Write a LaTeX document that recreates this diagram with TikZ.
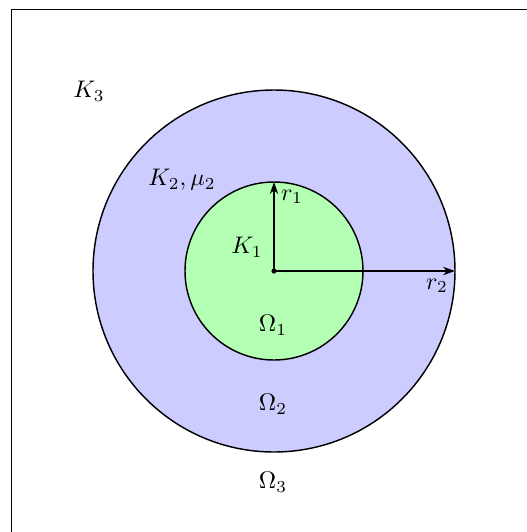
\documentclass[tikz,border=0pt]{standalone}
\usetikzlibrary{arrows.meta}
\definecolor{outerfill}{RGB}{204,204,255}
\definecolor{innerfill}{RGB}{179,255,179}
\tikzset{
  lbl/.style={inner sep=0pt},
  radius arrow/.style={line width=0.6pt,-{Stealth[length=5pt,width=3.5pt]}},
  border/.style={line width=0.6pt}
}
\begin{document}
\begin{tikzpicture}[x=0.4167pt,y=-0.4167pt]
\useasboundingbox (0,0) rectangle (527,532);
\clip (0,0) rectangle (527,532);
\draw[border] (11.5,9.5) rectangle (540,540);
\draw[border,fill=outerfill] (274,271) circle[radius=181];
\draw[border,fill=innerfill] (274,271) circle[radius=89];
\coordinate (c) at (274,271);
\coordinate (t1) at (274,182);
\coordinate (t2) at (455,271);
\fill (c) circle[radius=2.6];
\draw[radius arrow] (c) -- (t1);
\draw[radius arrow] (c) -- (t2);
\node[lbl] (k3) at (89,91) {$K_3$};
\node[lbl] (k2) at (182,180) {$K_2,\mu_2$};
\node[lbl] (r1) at (292,197) {$r_1$};
\node[lbl] (k1) at (247,247) {$K_1$};
\node[lbl] (r2) at (437,286) {$r_2$};
\node[lbl] (o1) at (273,325) {$\Omega_1$};
\node[lbl] (o2) at (273,404) {$\Omega_2$};
\node[lbl] (o3) at (273,482) {$\Omega_3$};
\end{tikzpicture}
\end{document}
